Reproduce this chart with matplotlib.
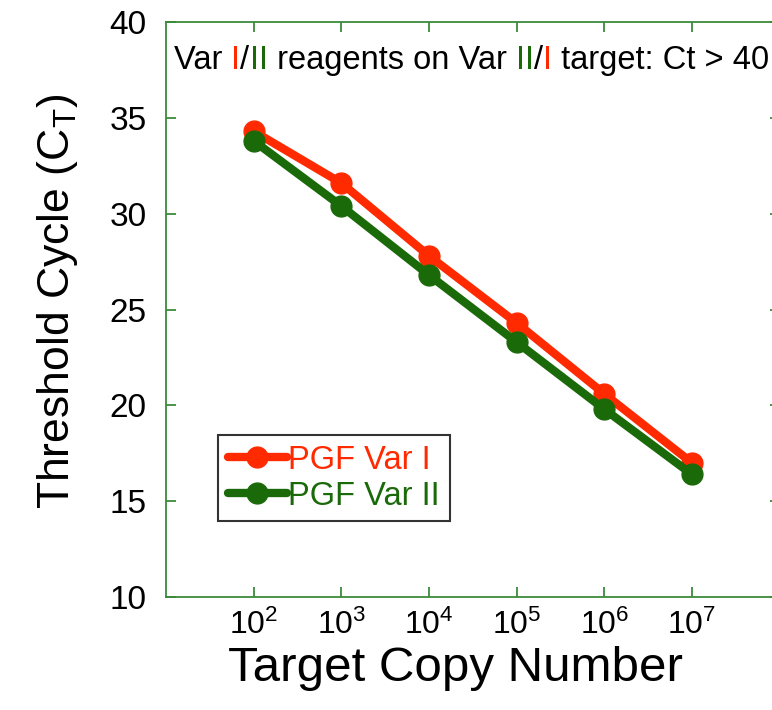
import numpy as np
import matplotlib
matplotlib.use('Agg')
import matplotlib.pyplot as plt

plt.rcParams['font.family'] = ['Liberation Sans', 'DejaVu Sans']
plt.rcParams['mathtext.fontset'] = 'custom'
plt.rcParams['mathtext.rm'] = 'Liberation Sans'
plt.rcParams['mathtext.it'] = 'Liberation Sans'

RED = '#ff2a00'
GREEN = '#1b6a0a'
AXIS_GREEN = '#3b8a3b'

copies = [1e2, 1e3, 1e4, 1e5, 1e6, 1e7]
ct_var1 = [34.3, 31.6, 27.8, 24.3, 20.6, 17.0]
ct_var2 = [33.8, 30.4, 26.8, 23.3, 19.8, 16.4]
xtick_exp = [2, 3, 4, 5, 6, 7]
yticks = [10, 15, 20, 25, 30, 35, 40]

fig = plt.figure(figsize=(7.72, 7.10), dpi=100)
ax = fig.add_axes([0.215, 0.159, 0.795, 0.81])

ax.plot(copies, ct_var1, color=RED, lw=6, marker='o', ms=15, label='PGF Var I',
        solid_capstyle='round', solid_joinstyle='round')
ax.plot(copies, ct_var2, color=GREEN, lw=6, marker='o', ms=15, label='PGF Var II',
        solid_capstyle='round', solid_joinstyle='round')

ax.set_xscale('log')
ax.set_xlim(1e1, 1e8)
ax.set_ylim(10, 40)
ax.set_xticks([10.0 ** e for e in xtick_exp])
ax.set_xticklabels([r'$\mathregular{10^{%d}}$' % e for e in xtick_exp])
ax.xaxis.set_minor_locator(matplotlib.ticker.NullLocator())
ax.set_yticks(yticks)

for sp in ax.spines.values():
    sp.set_color(AXIS_GREEN)
    sp.set_linewidth(1.3)
ax.tick_params(axis='both', which='major', direction='in', length=7, width=1.3,
               color=AXIS_GREEN, top=True, right=True)
ax.tick_params(axis='x', pad=9, labelsize=23)
ax.tick_params(axis='y', pad=14, labelsize=24)

ax.set_xlabel('Target Copy Number', fontsize=35.5)
ax.xaxis.set_label_coords(0.471, -0.085, transform=ax.transAxes)
ax.xaxis.label.set_va('top')
ax.set_ylabel(r'Threshold Cycle (C$_\mathregular{T}$)', fontsize=32)
ax.yaxis.set_label_coords(-0.14, 0.515, transform=ax.transAxes)

leg = ax.legend(loc='upper left', bbox_to_anchor=(0.085, 0.282), fontsize=23.5,
                frameon=True, fancybox=False, handlelength=1.8, handletextpad=0.05,
                borderpad=0.3, labelspacing=0.15, borderaxespad=0)
leg.get_frame().set_edgecolor('black')
leg.get_frame().set_linewidth(1.5)
for txt, c in zip(leg.get_texts(), [RED, GREEN]):
    txt.set_color(c)

# multi-coloured annotation line
pieces = [('Var ', 'black'), ('I', RED), ('/', 'black'), ('II', GREEN),
          (' reagents on Var ', 'black'), ('II', GREEN), ('/', 'black'),
          ('I', RED), (' target: Ct > 40', 'black')]
t = ax.text(0.013, 0.918, pieces[0][0], color=pieces[0][1], fontsize=23.5,
            transform=ax.transAxes, va='baseline')
for s, c in pieces[1:]:
    t = ax.annotate(s, xy=(1, 0), xycoords=t, xytext=(0, 0), textcoords='offset points',
                    color=c, fontsize=23.5, va='bottom')

fig.savefig('out.png', dpi=100)
